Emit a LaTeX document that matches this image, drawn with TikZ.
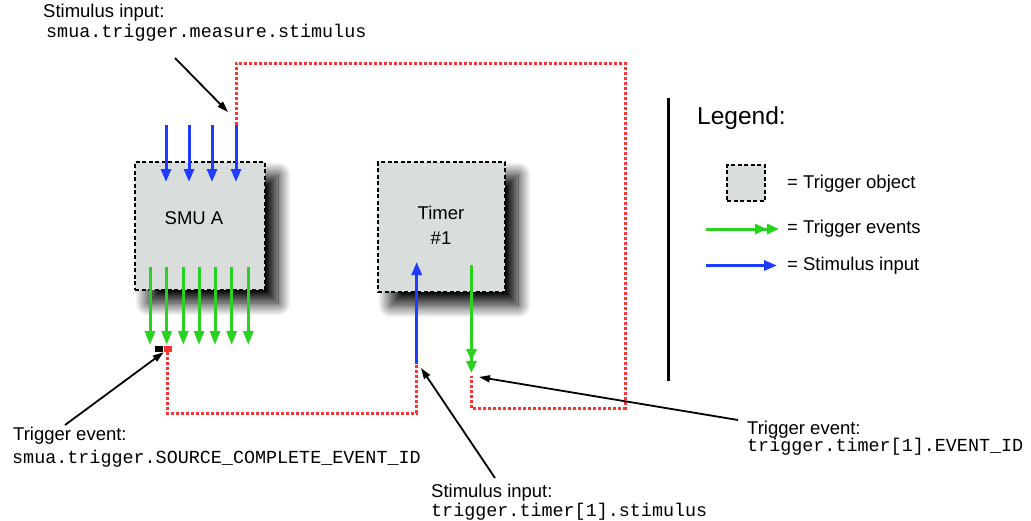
\documentclass[tikz,border=0pt]{standalone}
\usepackage{fontspec}
\setmainfont{Liberation Sans}
\setmonofont{Liberation Mono}
\usetikzlibrary{arrows.meta, positioning, shadows.blur}
\definecolor{stimblue}{RGB}{30,60,255}
\definecolor{evtgreen}{RGB}{40,210,30}
\definecolor{wirered}{RGB}{255,50,50}
\definecolor{objgray}{RGB}{217,222,221}

\begin{document}
\begin{tikzpicture}[x=1pt, y=-1pt,
        trigobj/.style={draw, fill=objgray, line width=1.8pt, dash pattern=on 4pt off 2.5pt, inner sep=0pt},
        objshadow/.style={blur shadow={shadow xshift=13pt, shadow yshift=-13pt, shadow blur radius=13pt, shadow blur steps=30, shadow opacity=100}},
        boxlabel/.style={font=\fontsize{18.5}{25}\selectfont, align=center, inner sep=0pt},
        stimarrow/.style={stimblue, line width=3pt, -{Triangle[length=13pt,width=10pt]}},
        evtarrow/.style={evtgreen, line width=3pt, -{Triangle[length=14pt,width=10pt]}},
        evtdouble/.style={evtgreen, line width=3pt, -{Triangle[length=12pt,width=10pt] Triangle[length=12pt,width=10pt]}},
        redwire/.style={wirered, line width=3pt, dash pattern=on 3pt off 2pt},
        callout/.style={black, line width=1.8pt, -{Triangle[length=11pt,width=7pt]}},
        lbltitle/.style={font=\fontsize{18.5}{22}\selectfont, inner sep=0pt, anchor=base west},
        lblcode/.style={font=\fontsize{18.4}{22}\ttfamily, inner sep=0pt, anchor=base west},
        legendtext/.style={font=\fontsize{18.5}{22}\selectfont, inner sep=0pt, anchor=west}
    ]
    \useasboundingbox (0,0) rectangle (1031,520);

    % Trigger objects
    \node[trigobj, objshadow, minimum width=130pt, minimum height=128pt] (smua) at (200,226) {};
    \node[boxlabel] (smulabel) at (194,218) {SMU A};
    \node[trigobj, objshadow, minimum width=127pt, minimum height=130pt] (timer) at (441.5,227) {};
    \node[boxlabel] (timerlabel) at (441,225) {Timer\\\#1};

    % Stimulus inputs of SMU A
    \foreach \x [count=\i] in {166,189,212,236} {
        \coordinate (smuin\i) at (\x,125);
        \coordinate (smuintip\i) at (\x,182);
        \draw[stimarrow] (smuin\i) -- (smuintip\i);
    }

    % Trigger events of SMU A
    \foreach \x [count=\i] in {150,166.7,183.3,199,215,231.7,248.3} {
        \coordinate (smuout\i) at (\x,267);
        \coordinate (smuouttip\i) at (\x,345);
        \draw[evtarrow] (smuout\i) -- (smuouttip\i);
    }

    % Event / stimulus terminals
    \node[fill=black, inner sep=0pt, minimum width=8.5pt, minimum height=6pt] (srcblack) at (159.2,349) {};
    \node[fill=wirered, inner sep=0pt, minimum width=8.5pt, minimum height=6pt, right=0pt of srcblack] (srcred) {};

    % Timer connections
    \coordinate (timerin) at (416.7,364);
    \coordinate (timerintip) at (416.7,262);
    \draw[stimarrow] (timerin) -- (timerintip);
    \coordinate (timerout) at (471.5,265);
    \coordinate (timerouttip) at (471.5,373);
    \draw[evtdouble] (timerout) -- (timerouttip);

    % Red wires
    \coordinate (wireTL) at (236,63);
    \coordinate (wireTR) at (625,63);
    \coordinate (wireBR) at (625,408);
    \coordinate (wireBM) at (471.5,408);
    \coordinate (wireEnd) at (471.5,376);
    \draw[redwire] (smuin4) -- (wireTL) -- (wireTR) -- (wireBR) -- (wireBM) -- (wireEnd);
    \coordinate (srcstart) at (167.3,352);
    \coordinate (wireBL) at (167.3,413);
    \coordinate (wireBC) at (416.7,413);
    \draw[redwire] (srcstart) -- (wireBL) -- (wireBC) -- (timerin);

    % Legend
    \coordinate (legtop) at (668,98);
    \coordinate (legbot) at (668,381);
    \draw[line width=3pt] (legtop) -- (legbot);
    \node[font=\fontsize{24.5}{28}\selectfont, inner sep=0pt, anchor=west] (legend) at (697,118) {Legend:};
    \node[trigobj, minimum width=38pt, minimum height=36pt] (legobj) at (746,183) {};
    \node[legendtext] (legobjtxt) at (787,184) {= Trigger object};
    \coordinate (legevtA) at (706,229);
    \coordinate (legevtB) at (779,229);
    \draw[evtdouble] (legevtA) -- (legevtB);
    \node[legendtext] (legevttxt) at (787,229) {= Trigger events};
    \coordinate (legstimA) at (706,265.5);
    \coordinate (legstimB) at (777,265.5);
    \draw[stimarrow] (legstimA) -- (legstimB);
    \node[legendtext] (legstimtxt) at (787,265.5) {= Stimulus input};

    % Callouts
    \node[lbltitle] (smustimttl) at (43,17) {Stimulus input:};
    \node[lblcode] (smustimcode) at (46,37) {smua.trigger.measure.stimulus};
    \coordinate (smustimfrom) at (175,58);
    \coordinate (smustimto) at (228,112);
    \draw[callout] (smustimfrom) -- (smustimto);

    \node[lbltitle] (srcevtttl) at (13,440) {Trigger event:};
    \node[lblcode] (srcevtcode) at (12,463) {smua.trigger.SOURCE\_COMPLETE\_EVENT\_ID};
    \coordinate (srcevtfrom) at (65,425);
    \draw[callout] (srcevtfrom) -- (srcblack.south east);

    \node[lbltitle] (tmrstimttl) at (431,497) {Stimulus input:};
    \node[lblcode] (tmrstimcode) at (431,516) {trigger.timer[1].stimulus};
    \coordinate (tmrstimfrom) at (495,478);
    \coordinate (tmrstimto) at (421,368);
    \draw[callout] (tmrstimfrom) -- (tmrstimto);

    \node[lbltitle] (tmrevtttl) at (747,434) {Trigger event:};
    \node[lblcode] (tmrevtcode) at (747,451) {trigger.timer[1].EVENT\_ID};
    \coordinate (tmrevtfrom) at (738,420);
    \coordinate (tmrevtto) at (479,377);
    \draw[callout] (tmrevtfrom) -- (tmrevtto);
\end{tikzpicture}
\end{document}
